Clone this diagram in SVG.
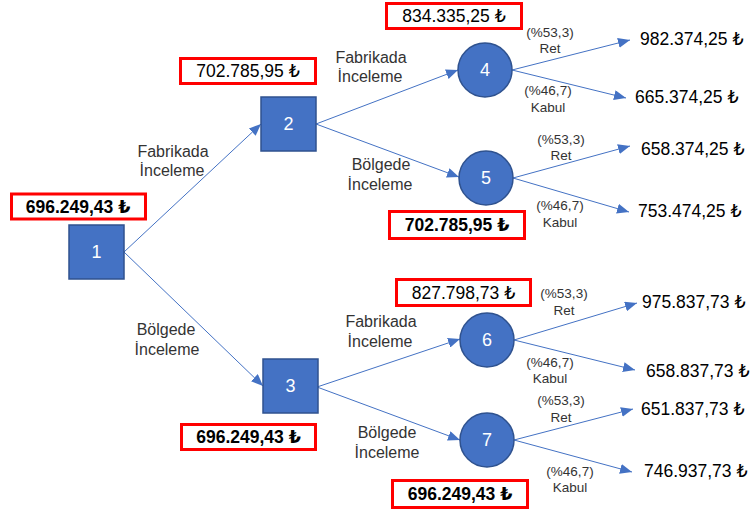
<svg xmlns="http://www.w3.org/2000/svg" width="751" height="515" viewBox="0 0 751 515">
<defs>
<style>
.sq{fill:#4472C4;stroke:#2F528F;stroke-width:1.5}
.ci{fill:#4472C4;stroke:#2F528F;stroke-width:1.5}
.num{font-family:"Liberation Sans",Arial,sans-serif;font-size:18px;fill:#fff;text-anchor:middle}
.box{fill:#fff;stroke:#FF0000;stroke-width:3}
.bt{font-family:"Liberation Sans","DejaVu Sans",sans-serif;font-size:17.5px;fill:#000;text-anchor:middle}
.bb{font-weight:bold}
.lf{font-family:"Liberation Sans","DejaVu Sans",sans-serif;font-size:17.5px;fill:#000}
.el{font-family:"Liberation Sans",Arial,sans-serif;font-size:16px;fill:#333;text-anchor:middle}
.pl{font-family:"Liberation Sans",Arial,sans-serif;font-size:13.5px;fill:#333;text-anchor:middle}
.ed{stroke:#4472C4;stroke-width:1;fill:none;marker-end:url(#ah)}
</style>
<marker id="ah" markerUnits="userSpaceOnUse" markerWidth="12" markerHeight="10" refX="12" refY="5" orient="auto">
<path d="M0,0 L12,5 L0,10 Z" fill="#4472C4"/>
</marker>
</defs>
<rect width="751" height="515" fill="#fff"/>
<g id="connectors">
<line class="ed" x1="124" y1="252" x2="261" y2="124"/>
<line class="ed" x1="124" y1="252" x2="263" y2="386"/>
<line class="ed" x1="316" y1="124" x2="458" y2="70"/>
<line class="ed" x1="316" y1="124" x2="459" y2="177"/>
<line class="ed" x1="317" y1="387" x2="460" y2="339"/>
<line class="ed" x1="317" y1="387" x2="460" y2="440"/>
<line class="ed" x1="512" y1="70" x2="630" y2="40"/>
<line class="ed" x1="512" y1="70" x2="626" y2="98"/>
<line class="ed" x1="513" y1="178" x2="630" y2="146"/>
<line class="ed" x1="513" y1="178" x2="629" y2="212"/>
<line class="ed" x1="514" y1="340" x2="637" y2="303"/>
<line class="ed" x1="514" y1="340" x2="635" y2="370"/>
<line class="ed" x1="514" y1="440" x2="633" y2="409"/>
<line class="ed" x1="514" y1="440" x2="632" y2="472"/>
</g>
<g id="edge-labels">
<text class="el" x="173" y="157">Fabrikada</text>
<text class="el" x="172" y="176">İnceleme</text>
<text class="el" x="166" y="335">Bölgede</text>
<text class="el" x="167" y="355">İnceleme</text>
<text class="el" x="371" y="63">Fabrikada</text>
<text class="el" x="370" y="82">İnceleme</text>
<text class="el" x="381" y="170">Bölgede</text>
<text class="el" x="380" y="190">İnceleme</text>
<text class="el" x="381" y="327">Fabrikada</text>
<text class="el" x="380" y="347">İnceleme</text>
<text class="el" x="387" y="438">Bölgede</text>
<text class="el" x="387" y="458">İnceleme</text>
</g>
<g id="prob-labels">
<text class="pl" x="550" y="37">(%53,3)</text>
<text class="pl" x="550" y="53">Ret</text>
<text class="pl" x="548" y="95">(%46,7)</text>
<text class="pl" x="548" y="112">Kabul</text>
<text class="pl" x="561" y="144">(%53,3)</text>
<text class="pl" x="561" y="160">Ret</text>
<text class="pl" x="560" y="210">(%46,7)</text>
<text class="pl" x="560" y="227">Kabul</text>
<text class="pl" x="564" y="298">(%53,3)</text>
<text class="pl" x="564" y="315">Ret</text>
<text class="pl" x="550" y="367">(%46,7)</text>
<text class="pl" x="550" y="383">Kabul</text>
<text class="pl" x="561" y="405">(%53,3)</text>
<text class="pl" x="561" y="422">Ret</text>
<text class="pl" x="570" y="476">(%46,7)</text>
<text class="pl" x="570" y="492">Kabul</text>
</g>
<g id="leaves">
<text class="lf" x="640" y="45">982.374,25 ₺</text>
<text class="lf" x="635" y="103">665.374,25 ₺</text>
<text class="lf" x="641" y="155">658.374,25 ₺</text>
<text class="lf" x="638" y="217">753.474,25 ₺</text>
<text class="lf" x="642" y="308">975.837,73 ₺</text>
<text class="lf" x="646" y="377">658.837,73 ₺</text>
<text class="lf" x="641" y="415">651.837,73 ₺</text>
<text class="lf" x="644" y="477">746.937,73 ₺</text>
</g>
<g id="node1">
<rect class="sq" x="69" y="225" width="55" height="54"/>
<text class="num" x="96.5" y="258">1</text>
<rect class="box" x="11.5" y="194" width="134" height="25"/>
<text class="bt bb" x="78" y="213">696.249,43 ₺</text>
</g>
<g id="node2">
<rect class="sq" x="261" y="97" width="55" height="54"/>
<text class="num" x="288.5" y="130">2</text>
<rect class="box" x="180.5" y="58.5" width="135" height="25"/>
<text class="bt" x="248" y="77">702.785,95 ₺</text>
</g>
<g id="node3">
<rect class="sq" x="263" y="359" width="55" height="54"/>
<text class="num" x="290.5" y="392">3</text>
<rect class="box" x="181.5" y="424.5" width="134" height="25"/>
<text class="bt bb" x="248.5" y="443">696.249,43 ₺</text>
</g>
<g id="node4">
<circle class="ci" cx="485" cy="70" r="27"/>
<text class="num" x="485" y="76">4</text>
<rect class="box" x="386.5" y="3.5" width="135" height="25"/>
<text class="bt" x="454" y="22">834.335,25 ₺</text>
</g>
<g id="node5">
<circle class="ci" cx="486" cy="178" r="27"/>
<text class="num" x="486" y="184">5</text>
<rect class="box" x="389.5" y="211.5" width="135" height="27"/>
<text class="bt bb" x="457" y="231">702.785,95 ₺</text>
</g>
<g id="node6">
<circle class="ci" cx="487" cy="340" r="27"/>
<text class="num" x="487" y="346">6</text>
<rect class="box" x="396.5" y="279.5" width="134" height="26"/>
<text class="bt" x="463.5" y="298.5">827.798,73 ₺</text>
</g>
<g id="node7">
<circle class="ci" cx="487" cy="440" r="27"/>
<text class="num" x="487" y="446">7</text>
<rect class="box" x="392.5" y="480.5" width="135" height="27"/>
<text class="bt bb" x="460" y="500">696.249,43 ₺</text>
</g>
</svg>
